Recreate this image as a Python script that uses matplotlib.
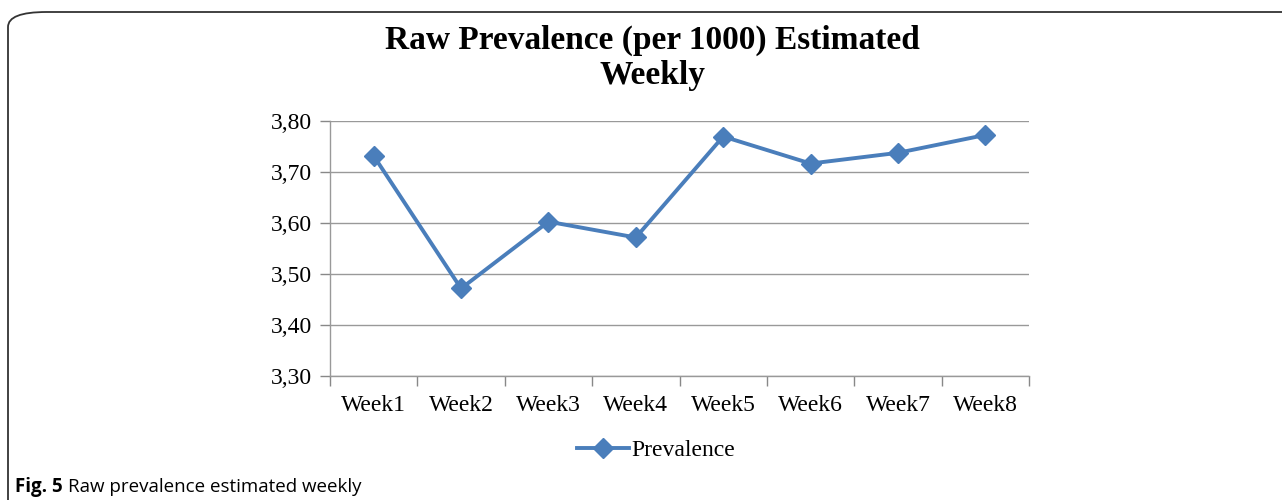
import matplotlib
matplotlib.use("Agg")
import matplotlib.pyplot as plt
from matplotlib.patches import FancyBboxPatch
from matplotlib.ticker import FuncFormatter, FixedLocator

weeks = ["Week1", "Week2", "Week3", "Week4", "Week5", "Week6", "Week7", "Week8"]
prevalence = [3.731, 3.471, 3.602, 3.571, 3.769, 3.716, 3.737, 3.772]
y_ticks = [3.30, 3.40, 3.50, 3.60, 3.70, 3.80]

W, H = 1282, 500
fig = plt.figure(figsize=(W / 100, H / 100), dpi=100)
serif = "Liberation Serif"

# outer frame with rounded corner
frame = FancyBboxPatch((8 / W, -0.2), 1.2, 1 - 12 / H + 0.2,
                       boxstyle="round,pad=0,rounding_size=0.03",
                       transform=fig.transFigure, fill=False,
                       ec="#333333", lw=1.3)
fig.patches.append(frame)

ax = fig.add_axes([330 / W, 1 - 375.7 / H, (1029 - 330) / W, (375.7 - 120.7) / H])
x = list(range(len(weeks)))
line, = ax.plot(x, prevalence, color="#4A7EBB", lw=2.8, marker="D",
                markersize=10, label="Prevalence")

ax.set_xlim(-0.5, len(weeks) - 0.5)
ax.set_ylim(3.30, 3.80)
ax.set_yticks(y_ticks)
ax.yaxis.set_major_formatter(FuncFormatter(lambda v, p: f"{v:.2f}".replace(".", ",")))
ax.set_xticks(x)
ax.set_xticklabels(weeks)
ax.xaxis.set_minor_locator(FixedLocator([i - 0.5 for i in range(len(weeks) + 1)]))
ax.tick_params(axis="x", which="major", length=0, pad=14)
ax.tick_params(axis="x", which="minor", length=7, color="#888888", width=1)
ax.tick_params(axis="y", length=7, color="#888888", width=1, pad=6)
for lab in ax.get_xticklabels() + ax.get_yticklabels():
    lab.set_fontfamily(serif)
    lab.set_fontsize(17)

ax.grid(axis="y", color="#999999", lw=1)
ax.set_axisbelow(True)
for s in ["top", "right"]:
    ax.spines[s].set_visible(False)
for s in ["left", "bottom"]:
    ax.spines[s].set_color("#999999")
    ax.spines[s].set_linewidth(1)

fig.text(652 / W, 1 - 58 / H, "Raw Prevalence (per 1000) Estimated\nWeekly",
         ha="center", va="center", fontfamily=serif, fontweight="bold",
         fontsize=24, linespacing=1.15)

fig.legend(handles=[line], loc="center", bbox_to_anchor=(656 / W, 1 - 450 / H),
           frameon=False, prop={"family": serif, "size": 17},
           handlelength=2.2, handletextpad=0.1)

t1 = fig.text(15 / W, 1 - 487 / H, "Fig. 5", ha="left", va="center",
              fontfamily="Open Sans", fontweight="bold", fontsize=13.5)
fig.canvas.draw()
bb = t1.get_window_extent()
fig.text((bb.x1 + 5) / W, 1 - 487 / H, "Raw prevalence estimated weekly",
         ha="left", va="center", fontfamily="Open Sans", fontsize=13.5)

fig.savefig("out.png", dpi=100)
